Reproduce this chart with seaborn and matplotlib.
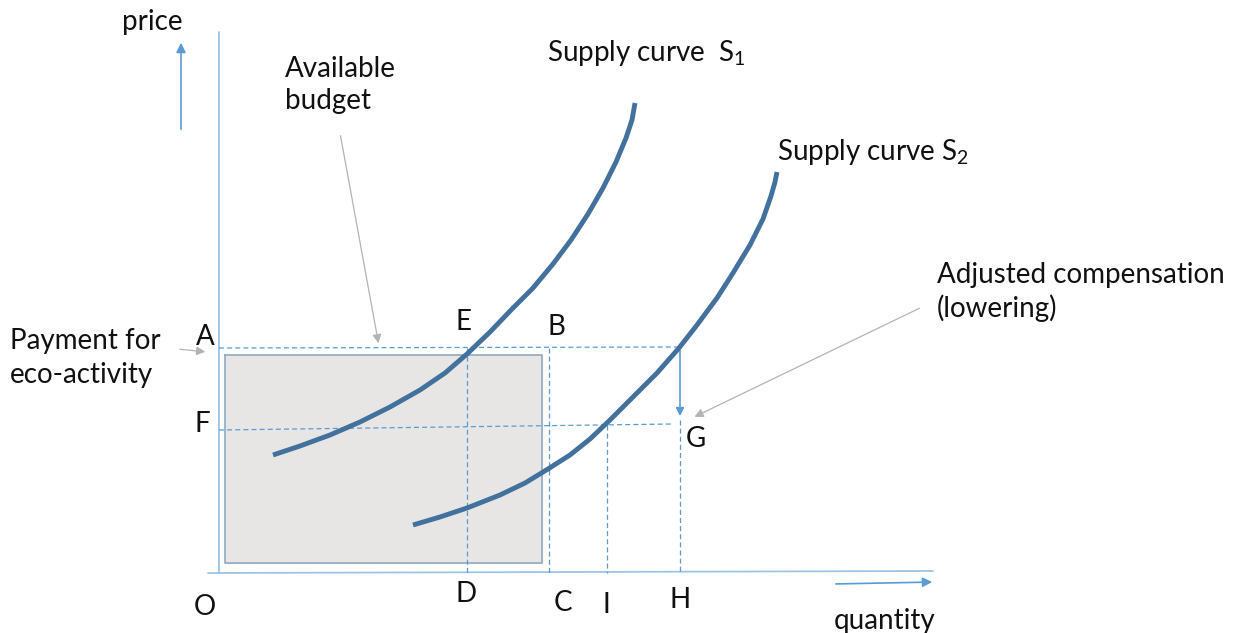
import numpy as np
import pandas as pd
import matplotlib
matplotlib.use("Agg")
import matplotlib.pyplot as plt
import seaborn as sns

# curve points (quantity, price) in pixel units of the drawing
s1_q = [273, 300, 330, 360, 390, 420, 445, 467, 490, 512, 533, 553, 571, 588, 603, 616, 626, 632, 635]
s1_p = [455, 446, 435, 422, 407, 390, 373, 354, 332, 309, 288, 264, 240, 214, 188, 162, 138, 120, 103]
s2_q = [413, 440, 467, 500, 525, 548, 570, 590, 610, 633, 657, 679, 697, 717, 733, 750, 763, 771, 775, 777]
s2_p = [525, 517, 508, 495, 483, 469, 455, 439, 420, 397, 373, 348, 325, 298, 273, 245, 219, 196, 182, 172]

# reference levels
price_A = 348
price_F_left, price_F_right = 430, 424
qty_D, qty_C, qty_I, qty_H = 467, 549, 607, 680
budget_q = [225, 542]
budget_p = [355, 563]

curves = pd.concat([
    pd.DataFrame({"q": s1_q, "p": s1_p, "curve": "S1"}),
    pd.DataFrame({"q": s2_q, "p": s2_p, "curve": "S2"}),
])

sns.set_style("white")
plt.rcParams["font.family"] = ["Lato", "DejaVu Sans"]
plt.rcParams["mathtext.fontset"] = "custom"
plt.rcParams["mathtext.rm"] = "Lato"
plt.rcParams["mathtext.it"] = "Lato"

fig = plt.figure(figsize=(12.33, 6.33), dpi=100)
ax = fig.add_axes([0, 0, 1, 1])
ax.set_xlim(0, 1233)
ax.set_ylim(633, 0)
ax.axis("off")

axis_col = "#9dc3e6"
guide_col = "#5b9bd5"
curve_col = "#41719c"
grey = "#b4b4b4"

# budget area
ax.fill_between(budget_q, budget_p[0], budget_p[1], color="#e7e6e4", zorder=1)
ax.plot([budget_q[0], budget_q[1], budget_q[1], budget_q[0], budget_q[0]],
        [budget_p[0], budget_p[0], budget_p[1], budget_p[1], budget_p[0]],
        color="#8faac4", lw=1.2, zorder=2)

# axes
ax.plot([219, 219], [32, 573], color=axis_col, lw=1.3, zorder=3)
ax.plot([208, 933], [573, 571], color=axis_col, lw=1.3, zorder=3)
ax.annotate("", xy=(181, 40), xytext=(181, 132),
            arrowprops=dict(arrowstyle="-|>", color=guide_col, lw=1.2, mutation_scale=14))
ax.annotate("", xy=(935, 582), xytext=(833, 584),
            arrowprops=dict(arrowstyle="-|>", color=guide_col, lw=1.2, mutation_scale=14))

# dashed guides
dash = dict(color=guide_col, lw=0.9, ls=(0, (4, 2.5)), zorder=3)
ax.plot([219, qty_H], [price_A, price_A - 1], **dash)
ax.plot([219, 673], [price_F_left, price_F_right], **dash)
ax.plot([qty_D, qty_D], [price_A, 573], **dash)
ax.plot([qty_C, qty_C], [price_A, 573], **dash)
ax.plot([qty_I, qty_I], [425, 573], **dash)
ax.plot([qty_H, qty_H], [420, 573], **dash)
ax.annotate("", xy=(qty_H, 419), xytext=(qty_H, price_A),
            arrowprops=dict(arrowstyle="-|>", color=guide_col, lw=1.2, mutation_scale=12))

# supply curves
sns.lineplot(data=curves, x="q", y="p", units="curve", estimator=None, sort=False,
             color=curve_col, lw=3.5, ax=ax, zorder=5)
for line in ax.lines[-2:]:
    line.set_solid_capstyle("butt")
    line.set_solid_joinstyle("round")

# grey pointer arrows
gp = dict(arrowstyle="-|>", color=grey, lw=0.9, mutation_scale=13)
ax.annotate("", xy=(379, 346), xytext=(340, 133), arrowprops=gp)
ax.annotate("", xy=(208, 352), xytext=(177, 349), arrowprops=gp)
ax.annotate("", xy=(692, 418), xytext=(922, 307), arrowprops=gp)

fs = 20
txt = dict(fontsize=fs, color="#111111")
ax.text(152, 22, "price", ha="center", va="center", **txt)
ax.text(285, 85, "Available\nbudget", ha="left", va="center", linespacing=1.25, **txt)
ax.text(547, 53, r"Supply curve  $\mathrm{S}_{1}$", ha="left", va="center", **txt)
ax.text(777, 152, r"Supply curve $\mathrm{S}_{2}$", ha="left", va="center", **txt)
ax.text(937, 292, "Adjusted compensation\n(lowering)", ha="left", va="center",
        linespacing=1.25, **txt)
ax.text(10, 358, "Payment for\neco-activity", ha="left", va="center",
        linespacing=1.35, **txt)

letters = ["A", "E", "B", "F", "G", "D", "C", "I", "H", "O"]
letter_x = [205, 463, 556, 202, 696, 466, 563, 606, 680, 205]
letter_y = [337, 322, 327, 424, 439, 594, 603, 605, 600, 607]
for s, x, y in zip(letters, letter_x, letter_y):
    ax.text(x, y, s, ha="center", va="center", **txt)
ax.text(885, 621, "quantity", ha="center", va="center", **txt)

fig.savefig("out.png", dpi=100)
